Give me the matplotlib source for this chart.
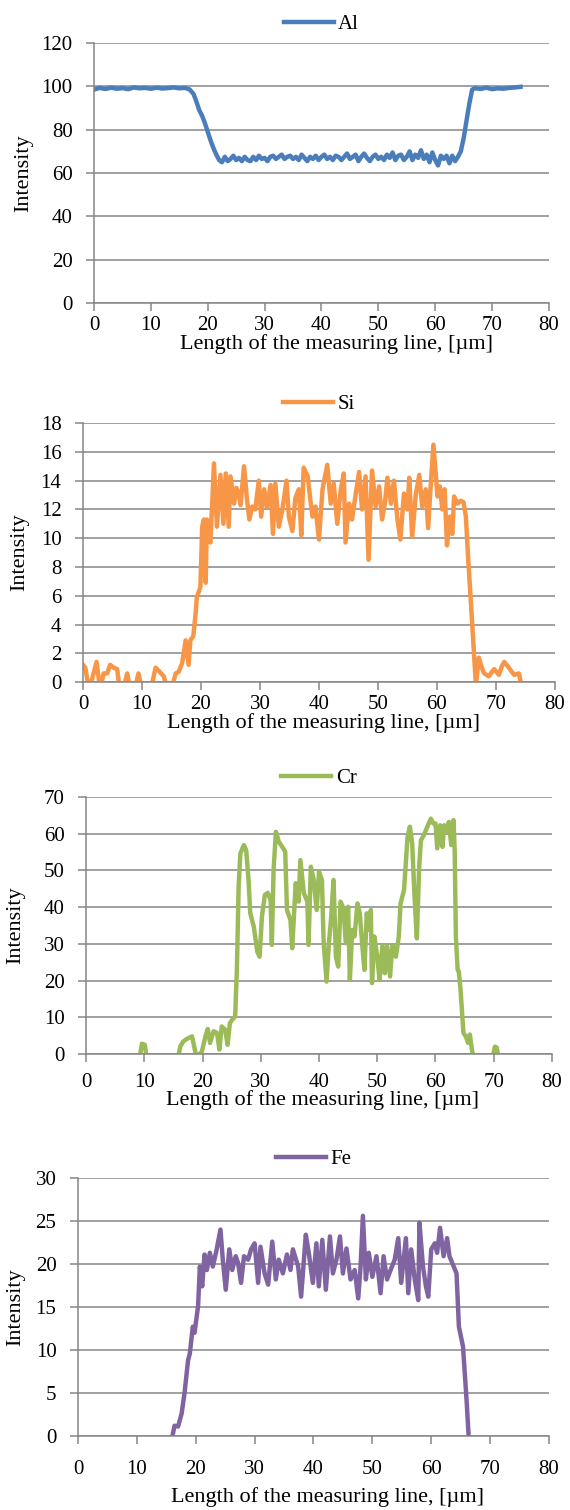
import matplotlib
matplotlib.use("Agg")
import matplotlib.pyplot as plt

plt.rcParams['font.family'] = ['Liberation Serif', 'DejaVu Serif']

# ---- Al profile ----
al_x = [0, 1, 2, 3, 4, 5, 6, 7, 8, 9, 10, 11, 12, 13, 14, 15, 16, 16.8,
        17.5, 18, 18.5, 19, 19.5, 20, 20.5, 21, 21.5, 22, 22.5,
        23, 23.5, 24, 24.5, 25, 25.5, 26, 26.5, 27, 27.5,
        28, 28.5, 29, 29.5, 30, 30.5, 31, 31.5, 32, 32.5,
        33, 33.5, 34, 34.5, 35, 35.5, 36, 36.5, 37, 37.5,
        38, 38.5, 39, 39.5, 40, 40.5, 41, 41.5, 42, 42.5,
        43, 43.5, 44, 44.5, 45, 45.5, 46, 46.5, 47, 47.5,
        48, 48.5, 49, 49.5, 50, 50.5, 51, 51.5, 52, 52.5,
        53, 53.5, 54, 54.5, 55, 55.5, 56, 56.5, 57, 57.5,
        58, 58.5, 59, 59.5, 60, 60.5, 61, 61.5, 62, 62.5,
        63, 63.5, 64, 64.5, 65, 65.5, 66, 66.5,
        67, 68, 69, 70, 71, 72, 73, 74, 75]
al_y = [98.5, 99.3, 98.8, 99.4, 98.9, 99.2, 98.7, 99.5, 99.1, 99.3, 98.9, 99.4, 99.0, 99.2, 99.5, 99.1, 99.3, 98.6,
        96.5, 93, 89, 86.5, 83, 79, 75, 71.5, 68.5, 66, 65,
        67.5, 65.5, 66.5, 68, 66, 67, 65.5, 67.5, 66, 65.5,
        67.5, 66, 68, 66.5, 67, 65.5, 67.5, 68, 66.5, 67.5,
        68.5, 66.5, 67.5, 68, 66.5, 67.5, 66, 68.5, 67, 65.5,
        67.5, 66.5, 68, 66, 67.5, 68.5, 66.5, 67.5, 66, 68,
        67.5, 66, 67.5, 69, 66.5, 67.5, 68.5, 65.5, 67.5, 69,
        67, 65.5, 67.5, 68.5, 66.5, 67.5, 66, 68.5, 67, 69.5,
        66, 68, 68.5, 66, 67.5, 70, 66, 68.5, 67, 70.5,
        66.5, 68.5, 65, 69.5, 66, 63.5, 68, 66.5, 68, 64.5,
        68, 65.5, 67.5, 70, 76, 84, 92, 98.5,
        99.2, 98.8, 99.4, 98.7, 99.1, 98.9, 99.3, 99.5, 99.8]

# ---- Si profile ----
si_x = [0.0, 0.4, 1.0, 1.6, 2.3, 2.9, 3.5, 4.1, 4.6, 5.2, 5.8, 6.2, 7.0, 7.5, 8.0, 8.9, 9.4, 10.0,
        11.5, 12.3, 12.8, 13.7, 14.3, 15.2, 15.7, 16.2, 16.8, 17.4, 17.9, 18.2, 18.7, 19.1, 19.3,
        19.9, 20.2, 20.5, 20.8, 21.0, 21.6, 22.2, 22.7, 23.3, 23.8, 24.2, 24.7, 25.0, 25.6, 26.0,
        26.4, 26.7, 27.3, 27.8, 28.2, 28.7, 29.2, 29.8, 30.2, 30.7, 31.2, 31.8, 32.2, 32.6, 33.2,
        33.8, 34.5, 34.9, 35.5, 36.0, 36.6, 37.0, 37.4, 38.1, 38.5, 38.9, 39.4, 40.0, 40.6, 41.4,
        42.0, 42.5, 43.1, 43.7, 44.2, 44.5, 45.1, 45.6, 46.2, 46.8, 47.3, 47.9, 48.4, 49.0, 49.6,
        50.2, 50.7, 51.2, 51.6, 52.2, 52.7, 53.3, 53.8, 54.4, 55.0, 55.3, 55.8, 56.4, 57.0, 57.5,
        58.1, 58.5, 58.9, 59.4, 60.1, 60.5, 60.9, 61.3, 61.7, 62.2, 62.6, 62.9, 63.5, 64.0, 64.5,
        64.9, 65.3, 65.7, 66.2, 66.6, 67.1, 67.6, 68.0, 68.8, 69.3, 69.7, 70.5, 71.0, 71.4, 72.2,
        72.7, 73.1, 73.9, 74.3]
si_y = [1.2, 1.0, -0.5, 0.3, 1.4, -0.5, 0.6, 0.6, 1.2, 1.0, 0.9, -0.5, -0.2, 0.6, -0.5, -0.3, 0.6, -0.5,
        -0.5, 1.0, 0.8, 0.4, -0.5, -0.2, 0.6, 0.7, 1.3, 2.9, 1.2, 2.9, 3.2, 4.8, 5.9,
        6.6, 10.8, 11.3, 6.9, 11.3, 9.7, 15.2, 10.8, 14.4, 11.0, 14.5, 10.8, 14.3, 12.4, 13.5,
        13.1, 12.3, 15.0, 12.7, 11.3, 12.2, 12.0, 14.0, 11.5, 13.4, 12.2, 13.7, 10.3, 13.8, 10.8,
        12.0, 14.0, 11.5, 10.5, 12.8, 13.4, 10.2, 14.9, 14.3, 12.8, 11.5, 12.2, 9.9, 13.4, 15.1,
        12.4, 13.8, 11.0, 13.4, 14.5, 9.7, 12.4, 11.3, 13.0, 14.6, 12.0, 14.3, 8.5, 14.7, 12.2,
        13.6, 11.3, 12.5, 14.2, 12.4, 14.0, 11.3, 9.9, 13.1, 12.0, 14.2, 10.1, 13.0, 14.4, 12.2,
        13.4, 10.7, 13.4, 16.5, 12.9, 13.6, 12.0, 13.4, 9.5, 11.5, 10.3, 12.9, 12.4, 12.6, 12.5,
        11.5, 8.5, 5.9, 2.5, -0.2, 1.7, 1.0, 0.6, 0.4, 0.7, 0.9, 0.5, 1.1, 1.4, 1.0,
        0.7, 0.5, 0.6, -0.2]

# ---- Cr profile ----
cr_x = [0, 9.2, 9.6, 10.1, 10.4, 15.8, 16.2, 16.7, 17.3, 18.2, 18.8, 19.3, 19.9, 20.5, 20.9,
        21.3, 21.9, 22.5, 22.9, 23.3, 23.9, 24.3, 24.7, 25.1, 25.6, 25.9, 26.2, 26.5, 27.1,
        27.5, 27.9, 28.2, 28.8, 29.4, 29.8, 30.2, 30.7, 31.2, 31.7, 31.9, 32.2, 32.6, 33.1,
        33.7, 34.2, 34.5, 35.1, 35.4, 36.0, 36.5, 36.8, 37.4, 38.0, 38.2, 38.6, 39.1, 39.6,
        40.0, 40.5, 40.8, 41.3, 41.7, 42.1, 42.5, 42.9, 43.3, 43.7, 44.2, 44.6, 45.0, 45.3,
        45.7, 46.1, 46.6, 47.0, 47.4, 47.8, 48.2, 48.6, 48.9, 49.1, 49.5, 50.0, 50.4, 50.9,
        51.3, 51.7, 52.2, 52.6, 53.2, 53.7, 54.0, 54.6, 55.2, 55.6, 56.0, 56.4, 56.8, 57.2,
        57.5, 58.0, 58.6, 59.2, 59.6, 60.0, 60.3, 60.8, 61.2, 61.5, 61.9, 62.3, 62.7, 63.1,
        63.3, 63.5, 63.8, 64.0, 64.3, 64.8, 65.2, 65.6, 65.9, 66.3, 66.6, 69.8, 70.2, 70.5,
        70.8, 75]
cr_y = [-2, -1, 2.8, 2.5, -1, -1, 2.1, 3.4, 4.1, 4.8, 0.3, -0.5, 0.7, 4.8, 6.8,
        3.0, 6.2, 5.7, 1.2, 7.5, 6.6, 2.5, 8.4, 9.3, 10.2, 22.9, 45.6, 54.6, 56.9,
        55.5, 47.4, 38.3, 34.7, 27.9, 26.5, 37.4, 43.3, 43.9, 41.9, 29.7, 50.1, 60.5, 57.8,
        56.4, 55.1, 39.2, 36.5, 28.8, 46.5, 41.5, 52.8, 43.8, 41.5, 29.7, 51.0, 47.4, 39.2,
        49.6, 47.4, 30.2, 19.7, 30.2, 37.4, 47.4, 26.5, 23.8, 41.5, 39.7, 30.2, 40.1, 20.2,
        33.8, 32.0, 41.0, 38.3, 30.2, 22.9, 38.3, 33.8, 39.2, 19.3, 32.0, 26.5, 20.2, 29.7,
        22.0, 29.3, 21.1, 29.7, 26.5, 32.0, 41.0, 44.7, 59.1, 61.9, 57.3, 42.8, 31.5, 51.0,
        58.2, 59.6, 61.9, 64.1, 62.8, 62.8, 56.0, 62.3, 56.4, 62.3, 60.5, 63.2, 56.9, 63.7,
        55.0, 32.0, 22.9, 22.5, 17.5, 5.7, 4.8, 3.0, 5.3, 0.7, -1, -1, 2.0, 1.8,
        -1, -1]

# ---- Fe profile ----
fe_x = [0, 15.5, 15.9, 16.4, 17.0, 17.6, 18.1, 18.7, 19.0, 19.5, 19.8, 20.4, 20.7, 21.1, 21.5,
        21.9, 22.4, 22.9, 23.5, 24.2, 24.6, 25.1, 25.7, 26.2, 26.8, 27.2, 27.7, 28.2, 28.9,
        29.4, 30.0, 30.6, 31.0, 31.7, 32.3, 33.0, 33.6, 34.1, 34.8, 35.5, 36.1, 36.5, 37.4,
        37.9, 38.7, 39.2, 39.9, 40.5, 40.9, 41.5, 42.1, 42.8, 43.3, 43.9, 44.5, 45.0, 45.6,
        46.3, 47.0, 47.6, 48.0, 48.4, 48.9, 49.4, 50.0, 50.7, 51.4, 51.9, 52.5, 53.1, 53.8,
        54.4, 54.9, 55.7, 56.1, 56.6, 57.2, 57.8, 58.0, 58.6, 59.1, 59.5, 60.0, 60.6, 61.0,
        61.5, 62.1, 62.7, 63.1, 63.7, 64.3, 64.7, 65.4, 66.0, 66.4, 67.0, 75]
fe_y = [-2, -1, -0.5, 1.2, 1.1, 2.6, 5.0, 8.8, 9.6, 12.7, 12.0, 15.1, 19.7, 17.4, 21.1,
        19.3, 21.3, 19.7, 21.5, 24.0, 20.5, 17.0, 21.7, 19.3, 20.9, 20.1, 17.8, 20.9, 20.5,
        21.7, 22.4, 17.8, 22.0, 18.9, 17.6, 22.6, 18.2, 20.5, 18.9, 21.1, 19.3, 21.7, 19.7,
        16.2, 23.4, 21.3, 17.8, 22.4, 17.4, 22.8, 17.0, 23.2, 18.9, 20.5, 23.2, 18.9, 21.8,
        18.2, 19.3, 16.0, 19.7, 25.6, 18.2, 21.3, 18.5, 20.9, 16.6, 20.9, 18.2, 19.3, 20.5,
        23.0, 17.8, 23.0, 16.6, 21.7, 18.2, 15.8, 24.8, 19.7, 17.4, 16.2, 21.7, 22.4, 21.3,
        24.2, 20.9, 23.0, 20.9, 19.9, 18.9, 12.7, 10.4, 4.2, -0.5, -2, -2]

x_ticks = [0, 10, 20, 30, 40, 50, 60, 70, 80]

grid_c = '#868686'
tick_fs = 15
label_fs = 16

# name, x, y, colour, ymax, ystep, axes rect, ylabel x, xlabel pos, xtick pad
panels = [
    ('Al', al_x, al_y, '#4A7EBB', 120, 20, [0.165, 0.7993, 0.798, 0.1722], -0.134, (0.532, -0.118), 4),
    ('Si', si_x, si_y, '#F79646', 18, 2, [0.1456, 0.5483, 0.828, 0.1715], -0.114, (0.51, -0.118), 4),
    ('Cr', cr_x, cr_y, '#9BBB59', 70, 10, [0.1509, 0.3020, 0.8175, 0.1702], -0.131, (0.507, -0.142), 8),
    ('Fe', fe_x, fe_y, '#8064A2', 30, 5, [0.1368, 0.0490, 0.8263, 0.1709], -0.1125, (0.53, -0.198), 12),
]

fig = plt.figure(figsize=(5.7, 15.1), dpi=100)

for name, xs, ys, col, ymax, ystep, rect, ylab_x, xlab_pos, xpad in panels:
    ax = fig.add_axes(rect)
    ax.plot(xs, ys, color=col, lw=3.2, label=name, solid_joinstyle='round')
    ax.set_xlim(0, 80)
    ax.set_ylim(0, ymax)
    ax.set_xticks(x_ticks)
    ax.set_yticks(list(range(0, ymax + 1, ystep)))
    ax.set_axisbelow(True)
    ax.yaxis.grid(True, color=grid_c, lw=1.1)
    for s in ['top', 'right']:
        ax.spines[s].set_visible(False)
    for s in ['left', 'bottom']:
        ax.spines[s].set_color(grid_c)
        ax.spines[s].set_linewidth(1.1)
    ax.tick_params(axis='both', colors=grid_c, labelcolor='black', labelsize=tick_fs,
                   direction='out', length=5.5, width=1.1)
    ax.tick_params(axis='y', pad=10)
    ax.tick_params(axis='x', pad=xpad)
    ax.set_xlabel('Length of the measuring line, [µm]', fontsize=label_fs)
    ax.xaxis.set_label_coords(*xlab_pos)
    ax.set_ylabel('Intensity', fontsize=label_fs)
    ax.yaxis.set_label_coords(ylab_x, 0.5)
    ax.legend(loc='lower center', bbox_to_anchor=(0.5, 0.985), frameon=False,
              fontsize=15, handlelength=2.4, handletextpad=0.2, borderpad=0.1)

fig.savefig('out.png', dpi=100)
